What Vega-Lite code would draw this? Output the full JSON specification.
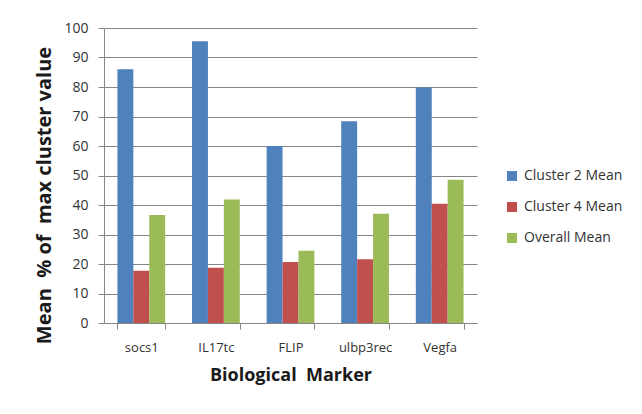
{
  "$schema": "https://vega.github.io/schema/vega-lite/v6.json",
  "width": 373,
  "height": 295,
  "autosize": {"type": "none"},
  "padding": {"left": 104, "top": 28, "right": 165, "bottom": 91},
  "background": "white",
  "data": {
    "values": [
      {"marker": "socs1", "series": "Cluster 2 Mean", "value": 86},
      {"marker": "socs1", "series": "Cluster 4 Mean", "value": 17.7},
      {"marker": "socs1", "series": "Overall Mean", "value": 36.6},
      {"marker": "IL17tc", "series": "Cluster 2 Mean", "value": 95.5},
      {"marker": "IL17tc", "series": "Cluster 4 Mean", "value": 18.7},
      {"marker": "IL17tc", "series": "Overall Mean", "value": 41.9},
      {"marker": "FLIP", "series": "Cluster 2 Mean", "value": 60},
      {"marker": "FLIP", "series": "Cluster 4 Mean", "value": 20.7},
      {"marker": "FLIP", "series": "Overall Mean", "value": 24.5},
      {"marker": "ulbp3rec", "series": "Cluster 2 Mean", "value": 68.4},
      {"marker": "ulbp3rec", "series": "Cluster 4 Mean", "value": 21.6},
      {"marker": "ulbp3rec", "series": "Overall Mean", "value": 37},
      {"marker": "Vegfa", "series": "Cluster 2 Mean", "value": 79.8},
      {"marker": "Vegfa", "series": "Cluster 4 Mean", "value": 40.4},
      {"marker": "Vegfa", "series": "Overall Mean", "value": 48.6}
    ]
  },
  "mark": {"type": "bar"},
  "encoding": {
    "x": {
      "field": "marker",
      "type": "nominal",
      "sort": ["socs1", "IL17tc", "FLIP", "ulbp3rec", "Vegfa"],
      "scale": {"paddingInner": 0.36, "paddingOuter": 0.18},
      "axis": {
        "title": "Biological\u00a0\u00a0Marker",
        "titleFont": "Open Sans",
        "titleFontSize": 18,
        "titleFontWeight": "bold",
        "titleColor": "#1a1a1a",
        "titlePadding": 12,
        "labelAngle": 0,
        "labelFont": "Open Sans",
        "labelFontSize": 13,
        "labelColor": "#333333",
        "labelPadding": 12,
        "tickBand": "extent",
        "tickSize": 6,
        "tickColor": "#868686",
        "domainColor": "#868686",
        "grid": false
      }
    },
    "xOffset": {
      "field": "series",
      "type": "nominal",
      "scale": {"paddingInner": 0, "paddingOuter": 0}
    },
    "y": {
      "field": "value",
      "type": "quantitative",
      "scale": {"domain": [0, 100], "nice": false},
      "axis": {
        "title": "Mean\u00a0\u00a0% of\u00a0\u00a0max cluster value",
        "titleFont": "Open Sans",
        "titleFontSize": 20,
        "titleFontWeight": "bold",
        "titleColor": "#1a1a1a",
        "titlePadding": 9,
        "titleY": 167,
        "values": [0, 10, 20, 30, 40, 50, 60, 70, 80, 90, 100],
        "labelFont": "Open Sans",
        "labelFontSize": 14,
        "labelColor": "#333333",
        "labelPadding": 10,
        "tickSize": 6,
        "tickColor": "#868686",
        "domainColor": "#868686",
        "grid": true,
        "gridColor": "#868686"
      }
    },
    "color": {
      "field": "series",
      "type": "nominal",
      "scale": {
        "domain": ["Cluster 2 Mean", "Cluster 4 Mean", "Overall Mean"],
        "range": ["#4F81BD", "#C0504D", "#9BBB59"]
      },
      "legend": {
        "title": null,
        "orient": "none",
        "legendX": 401,
        "legendY": 141,
        "symbolType": "square",
        "symbolSize": 100,
        "symbolStrokeWidth": 0,
        "labelFont": "Open Sans",
        "labelFontSize": 14,
        "labelColor": "#333333",
        "rowPadding": 17,
        "labelOffset": 5
      }
    }
  },
  "config": {"view": {"stroke": null}}
}
